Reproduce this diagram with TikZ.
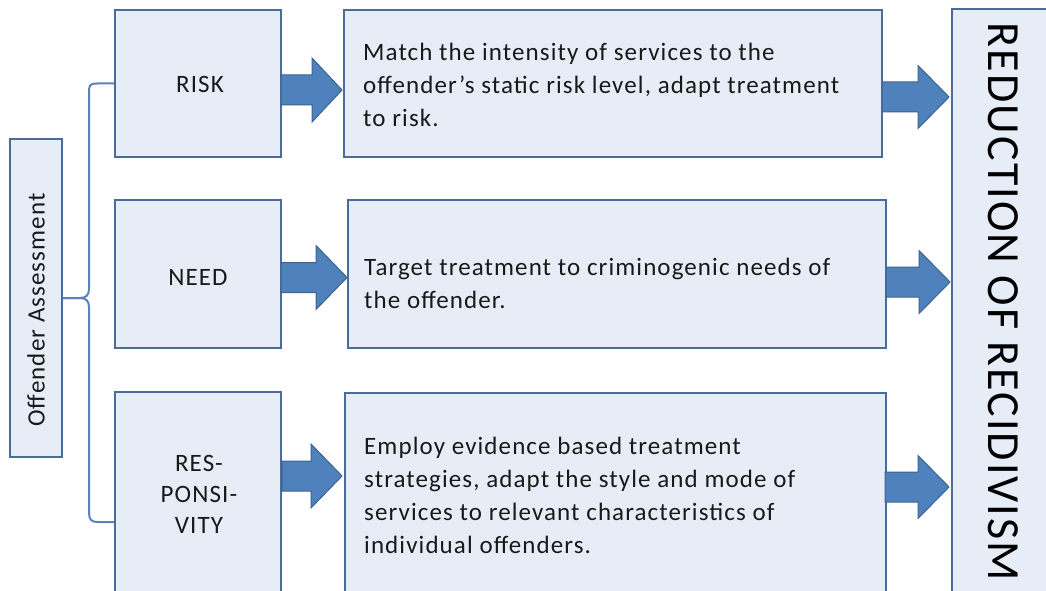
\documentclass[tikz,border=0pt]{standalone}
\usepackage{fontspec}
\setmainfont{Carlito}[LetterSpace=4.4]
\usetikzlibrary{calc}
\definecolor{boxfill}{HTML}{E6EDF7}
\definecolor{boxline}{HTML}{4A6C9B}
\definecolor{arrfill}{HTML}{4F81BD}
\definecolor{arrline}{HTML}{3D6290}
\definecolor{bracec}{HTML}{5A83B8}
% block arrow: #1 tail x, #2 head base x, #3 tip x, #4 centre y, #5 head half width
\newcommand{\BlockArr}[5]{%
  \draw[barrow] (#1,#4+15) -- (#2,#4+15) -- (#2,#4+#5) -- (#3,#4) -- (#2,#4-#5)
    -- (#2,#4-15) -- (#1,#4-15) -- cycle;}
\begin{document}
\begin{tikzpicture}[x=1pt,y=1pt,
  box/.style={draw=boxline, fill=boxfill, line width=1.6pt, inner sep=0pt},
  txt/.style={font=\fontsize{25}{33}\selectfont, text=black!90, inner sep=0pt, align=left, anchor=west},
  ctxt/.style={font=\fontsize{25}{31}\selectfont, text=black!90, inner sep=0pt, align=center},
  barrow/.style={draw=arrline, fill=arrfill, line width=1pt, line join=miter},
  bracel/.style={draw=bracec, line width=2pt}]
\useasboundingbox (0,0) rectangle (1046,-591);
\clip (0,0) rectangle (1046,-591);
\fill[white] (0,0) rectangle (1046,-591);

% left column
\node[box, minimum width=52pt, minimum height=318pt] (off) at (36,-298) {};
\node[ctxt, rotate=90] (offtxt) at (36,-310) {Offender Assessment};

\node[box, minimum width=166pt, minimum height=147pt] (risk) at (198,-83.5) {};
\node[box, minimum width=166pt, minimum height=148pt] (need) at (198,-274) {};
\node[box, minimum width=166pt, minimum height=204pt] (resp) at (198,-494) {};
\node[ctxt] (risktxt) at (200,-84) {RISK};
\node[ctxt] (needtxt) at (198,-277) {NEED};
\node[ctxt] (resptxt) at (199,-494) {RES-\\PONSI-\\VITY};

% text boxes
\node[box, minimum width=538pt, minimum height=147pt] (t1) at (613,-83.5) {};
\node[box, minimum width=538pt, minimum height=148pt] (t2) at (617,-274) {};
\node[box, minimum width=541pt, minimum height=204pt] (t3) at (615.5,-495) {};
\node[txt] (t1txt) at (363,-85) {Match the intensity of services to the\\offender’s static risk level, adapt treatment\\to risk.};
\node[txt] (t2txt) at (364,-283) {Target treatment to criminogenic needs of\\the offender.};
\node[txt] (t3txt) at (364,-495) {Employ evidence based treatment\\strategies, adapt the style and mode of\\services to relevant characteristics of\\individual offenders.};

% result box
\node[box, minimum width=150pt, minimum height=620pt] (red) at (1027,-319) {};
\node[font=\fontsize{46}{46}\selectfont, rotate=-90, inner sep=0pt] (redtxt) at (1003,-302) {REDUCTION OF RECIDIVISM};

% brace
\coordinate (bbot) at (114,-522);
\draw[bracel] (risk.west) -- (97,-83.5) .. controls (89,-83.5) and (89,-86) .. (89,-93)
  -- (89,-289) .. controls (89,-295) and (86,-298) .. (80,-298) -- (off.east);
\draw[bracel] (off.east) -- (80,-298) .. controls (86,-298) and (89,-301) .. (89,-307)
  -- (89,-512) .. controls (89,-519) and (91,-522) .. (97,-522) -- (bbot);

% block arrows
\BlockArr{281}{312}{342}{-90}{32}
\BlockArr{281}{316}{347}{-277.5}{32}
\BlockArr{282}{311}{342}{-476}{32}
\BlockArr{882}{918}{949}{-97}{31.5}
\BlockArr{886}{919}{950}{-282}{31.5}
\BlockArr{885}{918}{949}{-487}{31.5}
\end{tikzpicture}
\end{document}
